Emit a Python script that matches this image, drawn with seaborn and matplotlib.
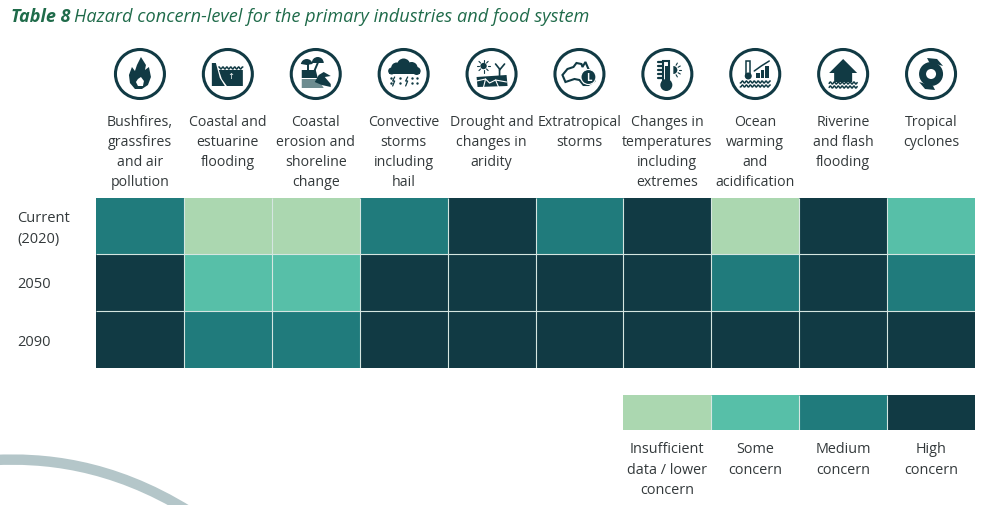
import numpy as np
import pandas as pd
import seaborn as sns
import matplotlib.pyplot as plt
from matplotlib.colors import ListedColormap
from matplotlib.patches import Circle, Polygon, PathPatch, Rectangle, Wedge
from matplotlib.path import Path

# -------------------------------
# Data
# -------------------------------
hazards = [
    "Bushfires,\ngrassfires\nand air\npollution",
    "Coastal and\nestuarine\nflooding",
    "Coastal\nerosion and\nshoreline\nchange",
    "Convective\nstorms\nincluding\nhail",
    "Drought and\nchanges in\naridity",
    "Extratropical\nstorms",
    "Changes in\ntemperatures\nincluding\nextremes",
    "Ocean\nwarming\nand\nacidification",
    "Riverine\nand flash\nflooding",
    "Tropical\ncyclones",
]
periods = ["Current\n(2020)", "2050", "2090"]
current = [2, 0, 0, 2, 3, 2, 3, 0, 3, 1]
mid_century = [3, 1, 1, 3, 3, 3, 3, 2, 3, 2]
end_century = [3, 2, 2, 3, 3, 3, 3, 3, 3, 3]
levels = [0, 1, 2, 3]
level_labels = ["Insufficient\ndata / lower\nconcern", "Some\nconcern", "Medium\nconcern", "High\nconcern"]
colors = ["#abd7b0", "#57bfa8", "#207b7c", "#113a44"]
title_bold = "Table 8"
title_rest = "Hazard concern-level for the primary industries and food system"

sns.set_theme(style="white")
plt.rcParams["font.family"] = ["Open Sans", "DejaVu Sans"]
TEXT = "#33393b"
DARK = "#113a44"
GRID = "#d5e6e1"
W, H = 988, 506


def axes_px(fig, x0, y0, x1, y1):
    return fig.add_axes([x0 / W, 1 - y1 / H, (x1 - x0) / W, (y1 - y0) / H])


fig = plt.figure(figsize=(W / 100, H / 100), dpi=100)
cmap = ListedColormap(colors)

# -------------------------------
# Main heatmap
# -------------------------------
df = pd.DataFrame([current, mid_century, end_century], index=periods, columns=hazards)
ax = axes_px(fig, 96, 198.6, 975, 368.6)
sns.heatmap(df, ax=ax, cmap=cmap, vmin=-0.5, vmax=3.5, cbar=False, linewidths=0)
ax.vlines(range(1, len(hazards)), 0, len(periods), color=GRID, lw=0.8)
ax.hlines(range(1, len(periods)), 0, len(hazards), color=GRID, lw=0.8)
ax.xaxis.tick_top()
ax.tick_params(axis="both", length=0)
ax.tick_params(axis="x", pad=60.3)
ax.set_xticklabels(hazards, rotation=0, fontsize=10.2, color=TEXT, linespacing=1.47, va="top")
ax.set_yticklabels([])
ax.set_xlabel("")
ax.set_ylabel("")

# -------------------------------
# Legend strip
# -------------------------------
leg = axes_px(fig, 623, 395.6, 975, 430.6)
sns.heatmap(pd.DataFrame([levels], columns=level_labels), ax=leg, cmap=cmap, vmin=-0.5, vmax=3.5,
            cbar=False, linewidths=0, yticklabels=False)
leg.vlines(range(1, len(levels)), 0, 1, color=GRID, lw=0.8)
leg.tick_params(axis="x", length=0, pad=8.5)
leg.set_xticklabels(level_labels, rotation=0, fontsize=10.4, color=TEXT, linespacing=1.47, va="top")

# -------------------------------
# Overlay in pixel coordinates: title, row labels, icons, swoosh
# -------------------------------
ov = fig.add_axes([0, 0, 1, 1], zorder=5)
ov.set_xlim(0, W)
ov.set_ylim(H, 0)
ov.axis("off")
ov.patch.set_alpha(0)

ov.text(11, 16.5, title_bold, fontsize=13, fontweight="bold", style="italic", color="#1f6b4a", va="center")
ov.text(74, 16.5, title_rest, fontsize=13.05, style="italic", color="#1f6b4a", va="center")

ov.text(17, 229, periods[0], fontsize=10.5, color=TEXT, va="center", linespacing=1.55)
ov.text(17, 285, periods[1], fontsize=10.5, color=TEXT, va="center")
ov.text(17, 342, periods[2], fontsize=10.5, color=TEXT, va="center")

swoosh = Path([(-5, 461), (40, 459), (110, 463), (190, 513)],
              [Path.MOVETO, Path.CURVE4, Path.CURVE4, Path.CURVE4])
ov.add_patch(PathPatch(swoosh, fill=False, ec="#b4c6c9", lw=7.5, capstyle="butt"))


def poly(cx, cy, pts, color=DARK):
    ov.add_patch(Polygon([(cx + a, cy + b) for a, b in pts], closed=True, fc=color, ec="none"))


def waves(cx, cy, x0, x1, n=1, gap=4):
    xs = np.linspace(x0, x1, 40)
    for i in range(n):
        ov.plot(cx + xs, cy + gap * i + 1.1 * np.sin(xs * 1.6), color=DARK, lw=1.1)


def fire(cx, cy):
    poly(cx, cy, [(1, -17), (6, -9), (5, -4), (9, -7), (11, 3), (8, 11), (2, 15), (-5, 15), (-10, 9),
                  (-11, 1), (-8, -7), (-5, -3), (-3, -9)])
    poly(cx, cy, [(1, 3), (4, 7), (3, 12), (-2, 12), (-4, 8), (-2, 5)], "white")


def coast(cx, cy):
    poly(cx, cy, [(-16, -11), (-12, -11), (-8, 4), (-3, 12), (-16, 12)])
    poly(cx, cy, [(-9, -4), (15, -4), (15, 12), (-1, 12), (-6, 5)])
    waves(cx, cy - 6, -9, 15)
    ov.text(cx + 3, cy + 1, "↑", fontsize=6, color="white", ha="center", va="center", family="DejaVu Sans")


def erosion(cx, cy):
    poly(cx, cy, [(-14, -4), (0, -4), (2, 4), (-14, 4)])
    poly(cx, cy, [(-14, 5), (2, 5), (8, 14), (-14, 14)], "#6d8c90")
    poly(cx, cy, [(-1, 8), (3, 1), (8, -2), (15, 2), (9, 3), (15, 10), (15, 13), (6, 11)])
    ov.add_patch(Wedge((cx - 9, cy - 9), 6, 190, 350, fc=DARK, ec="none"))
    ov.add_patch(Wedge((cx + 2, cy - 11), 6, 180, 360, fc=DARK, ec="none"))
    ov.plot([cx - 8, cx - 8], [cy - 10, cy - 4], color=DARK, lw=1.4)
    ov.plot([cx + 2, cx - 1], [cy - 11, cy - 4], color=DARK, lw=1.4)


def storm(cx, cy):
    for dx, dy, r in [(-7, -6, 5.5), (0, -9, 6.5), (8, -6, 6), (13, -3, 4), (-12, -3, 3.5)]:
        ov.add_patch(Circle((cx + dx, cy + dy), r, fc=DARK, ec="none"))
    ov.add_patch(Rectangle((cx - 15, cy - 5), 31, 5, fc=DARK, ec="none"))
    for dx in (-10, 3):
        ov.plot([cx + dx + 1, cx + dx - 1, cx + dx + 1, cx + dx - 1],
                [cy + 3, cy + 7, cy + 7, cy + 12], color=DARK, lw=0.9)
    ov.scatter([cx - 13, cx - 13, cx - 4, cx - 4, cx + 8, cx + 8, cx + 13, cx + 13],
               [cy + 4, cy + 9, cy + 4, cy + 9, cy + 4, cy + 9, cy + 4, cy + 9], s=3, color=DARK, lw=0)


def drought(cx, cy):
    ov.add_patch(Circle((cx - 8, cy - 8), 3.2, fc=DARK, ec="none"))
    for a in np.arange(0, 360, 45):
        r = np.radians(a)
        ov.plot([cx - 8 + 4.2 * np.cos(r), cx - 8 + 6.5 * np.cos(r)],
                [cy - 8 + 4.2 * np.sin(r), cy - 8 + 6.5 * np.sin(r)], color=DARK, lw=0.8)
    ov.plot([cx + 8, cx + 8, cx + 4], [cy + 2, cy - 5, cy - 10], color=DARK, lw=1.2)
    ov.plot([cx + 8, cx + 13], [cy - 4, cy - 10], color=DARK, lw=1.2)
    poly(cx, cy, [(-15, 3), (15, 1), (16, 12), (-14, 13)])
    ov.plot([cx - 15, cx - 6, cx - 2, cx + 4, cx + 15], [cy + 7, cy + 5, cy + 9, cy + 6, cy + 8], color="white", lw=0.8)
    ov.plot([cx - 6, cx - 8], [cy + 5, cy + 13], color="white", lw=0.8)
    ov.plot([cx + 4, cx + 7], [cy + 6, cy + 13], color="white", lw=0.8)


def australia(cx, cy):
    ov.add_patch(Polygon([(cx - 17, cy + 1), (cx - 12, cy - 5), (cx - 6, cy - 7), (cx - 3, cy - 11), (cx + 2, cy - 10),
                          (cx + 3, cy - 7), (cx + 6, cy - 12), (cx + 9, cy - 5), (cx + 14, cy + 1), (cx + 15, cy + 7),
                          (cx + 9, cy + 11), (cx + 4, cy + 11), (cx, cy + 6), (cx - 5, cy + 5), (cx - 14, cy + 8)],
                         closed=True, fc="white", ec=DARK, lw=1.5))
    ov.add_patch(Circle((cx + 9, cy + 3), 7.5, fc=DARK, ec="white", lw=0.8))
    ov.text(cx + 9, cy + 3, "L", fontsize=7, color="white", ha="center", va="center", fontweight="bold")


def thermometer(cx, cy):
    ov.add_patch(Rectangle((cx - 4, cy - 13), 6, 20, fc="white", ec=DARK, lw=1.5))
    ov.add_patch(Circle((cx - 1, cy + 11), 6, fc=DARK, ec="none"))
    ov.add_patch(Rectangle((cx - 2.3, cy - 8), 2.6, 16, fc=DARK, ec="none"))
    for i in range(5):
        ov.plot([cx - 9, cx - 5], [cy - 12 + i * 4, cy - 12 + i * 4], color=DARK, lw=1.6)
    ov.add_patch(Wedge((cx + 6, cy - 4), 4, -90, 90, fc=DARK, ec="none"))
    for a in (-60, -30, 0, 30, 60):
        r = np.radians(a)
        ov.plot([cx + 6 + 5.5 * np.cos(r), cx + 6 + 8 * np.cos(r)],
                [cy - 4 + 5.5 * np.sin(r), cy - 4 + 8 * np.sin(r)], color=DARK, lw=0.8)


def ocean(cx, cy):
    ov.add_patch(Rectangle((cx - 9, cy - 13), 4, 14, fc="white", ec=DARK, lw=1.1))
    ov.add_patch(Circle((cx - 7, cy + 2), 3.5, fc=DARK, ec="none"))
    for i, bh in enumerate([5, 8, 12]):
        ov.add_patch(Rectangle((cx + 1 + i * 4.5, cy + 4 - bh), 3.5, bh, fc=DARK, ec="none"))
    ov.plot([cx - 1, cx + 6, cx + 14], [cy - 3, cy - 8, cy - 13], color=DARK, lw=1.1)
    waves(cx, cy + 8, -15, 15, n=2, gap=4)


def flood(cx, cy):
    poly(cx, cy, [(0, -15), (14, -1), (9, -1), (9, 8), (-9, 8), (-9, -1), (-14, -1)])
    waves(cx, cy + 9, -14, 14, n=2, gap=4)


def cyclone(cx, cy):
    ov.add_patch(Circle((cx, cy), 12, fc=DARK, ec="none"))
    ov.add_patch(Circle((cx, cy), 5, fc="white", ec="none"))
    poly(cx, cy, [(-2, -12), (-4, -16), (6, -15), (12, -8)])
    poly(cx, cy, [(2, 12), (4, 16), (-6, 15), (-12, 8)])


icon_funcs = [fire, coast, erosion, storm, drought, australia, thermometer, ocean, flood, cyclone]
cell = (975 - 96) / len(hazards)
for i, func in enumerate(icon_funcs):
    cx = 96 + cell * (i + 0.5)
    cy = 75
    ov.add_patch(Circle((cx, cy), 24.5, fc="white", ec=DARK, lw=2.2))
    func(cx, cy)

plt.savefig("out.png", dpi=100)
